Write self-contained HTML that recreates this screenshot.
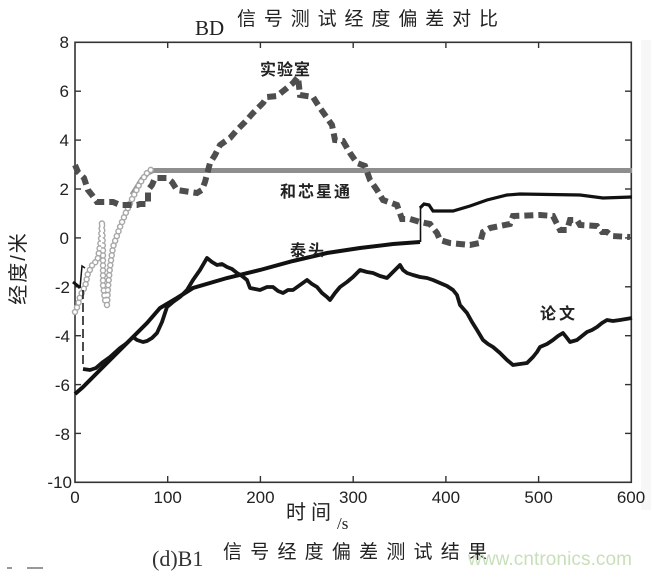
<!DOCTYPE html>
<html><head><meta charset="utf-8"><style>
html,body{margin:0;padding:0;background:#fff;}
svg{display:block;}
.t{font-family:"Liberation Sans",sans-serif;font-size:17px;fill:#222;}
.cn{font-family:"Liberation Sans","Noto Sans CJK SC",sans-serif;fill:#222;}
</style></head><body>
<svg width="651" height="574" viewBox="0 0 651 574" xmlns="http://www.w3.org/2000/svg">
<rect width="651" height="574" fill="#fff"/>
<rect x="641" y="40" width="10" height="470" fill="#f7f7f7"/>
<!-- title -->
<text x="195" y="35" font-family="Liberation Serif,serif" font-size="21" fill="#222">BD</text>
<text x="237" y="25" class="cn" font-size="19" textLength="261" lengthAdjust="spacing">信号测试经度偏差对比</text>

<!-- axes box -->
<rect x="75" y="42.3" width="556.3" height="440" fill="none" stroke="#333" stroke-width="1.6"/>
<g stroke="#333" stroke-width="1.4">
<line x1="167.7" y1="482.3" x2="167.7" y2="476"/><line x1="260.4" y1="482.3" x2="260.4" y2="476"/><line x1="353.2" y1="482.3" x2="353.2" y2="476"/><line x1="445.9" y1="482.3" x2="445.9" y2="476"/><line x1="538.6" y1="482.3" x2="538.6" y2="476"/>
<line x1="167.7" y1="42.3" x2="167.7" y2="48"/><line x1="260.4" y1="42.3" x2="260.4" y2="48"/><line x1="353.2" y1="42.3" x2="353.2" y2="48"/><line x1="445.9" y1="42.3" x2="445.9" y2="48"/><line x1="538.6" y1="42.3" x2="538.6" y2="48"/>
<line x1="75" y1="91.2" x2="81" y2="91.2"/><line x1="75" y1="140.1" x2="81" y2="140.1"/><line x1="75" y1="189" x2="81" y2="189"/><line x1="75" y1="237.9" x2="81" y2="237.9"/><line x1="75" y1="286.8" x2="81" y2="286.8"/><line x1="75" y1="335.7" x2="81" y2="335.7"/><line x1="75" y1="384.6" x2="81" y2="384.6"/><line x1="75" y1="433.4" x2="81" y2="433.4"/>
<line x1="631.3" y1="91.2" x2="625" y2="91.2"/><line x1="631.3" y1="140.1" x2="625" y2="140.1"/><line x1="631.3" y1="189" x2="625" y2="189"/><line x1="631.3" y1="237.9" x2="625" y2="237.9"/><line x1="631.3" y1="286.8" x2="625" y2="286.8"/><line x1="631.3" y1="335.7" x2="625" y2="335.7"/><line x1="631.3" y1="384.6" x2="625" y2="384.6"/><line x1="631.3" y1="433.4" x2="625" y2="433.4"/>
</g>
<!-- y tick labels -->
<g class="t" text-anchor="end">
<text x="69" y="48">8</text><text x="69" y="97">6</text><text x="69" y="146">4</text><text x="69" y="195">2</text><text x="69" y="244">0</text>
<text x="70" y="293">-2</text><text x="70" y="342">-4</text><text x="70" y="391">-6</text><text x="70" y="440">-8</text><text x="72" y="488">-10</text>
</g>
<!-- x tick labels -->
<g class="t" text-anchor="middle">
<text x="75" y="503">0</text><text x="167.7" y="503">100</text><text x="260.4" y="503">200</text><text x="353.2" y="503">300</text><text x="445.9" y="503">400</text><text x="538.6" y="503">500</text><text x="631" y="503">600</text>
</g>
<!-- axis labels -->
<text transform="translate(25,268) rotate(-90)" text-anchor="middle" class="cn" font-size="20" letter-spacing="2">经度/米</text>
<text x="286" y="519" class="cn" font-size="20" letter-spacing="5">时间</text>
<text x="337" y="529" font-family="Liberation Serif,serif" font-size="17" fill="#222">/s</text>
<!-- caption -->
<text x="152" y="566" font-family="Liberation Serif,serif" font-size="22" fill="#333">(d)B1</text>
<text x="223" y="558" class="cn" font-size="19" textLength="264" lengthAdjust="spacing">信号经度偏差测试结果</text>
<text x="468" y="565" font-family="Liberation Sans,sans-serif" font-size="19" fill="#c8dfba" textLength="164">www.cntronics.com</text>
<g fill="#999"><rect x="7" y="567" width="5" height="2"/><rect x="27" y="567" width="16" height="2"/></g>

<!-- 和芯星通 gray thick line -->
<polyline points="132,195 142,179 148,173 153,170.5 632,170.5" fill="none" stroke="#8e8e8e" stroke-width="5"/>

<!-- circle series -->
<path d="M75,312 L78,305 L80,297 L83,290 L85,287 L88,273 L91,268 L93,263 L96,262 L98,258 L101,240 L102,222 L103,250 L103,285 L105,300 L107,305 L108,287 L110,267 L113,247 L120,227 L127,210 L133,197 L140,183 L147,173 L153,168" fill="none" stroke="#b5b5b5" stroke-width="1"/>
<path d="M75,312 L78,305 L80,297 L83,290 L85,287 L88,273 L91,268 L93,263 L96,262 L98,258 L101,240 L102,222 L103,250 L103,285 L105,300 L107,305 L108,287 L110,267 L113,247 L120,227 L127,210 L133,197 L140,183 L147,173 L153,168" fill="none" stroke="#a8a8a8" stroke-width="6.5" stroke-linecap="round" stroke-dasharray="0 5"/>
<path d="M75,312 L78,305 L80,297 L83,290 L85,287 L88,273 L91,268 L93,263 L96,262 L98,258 L101,240 L102,222 L103,250 L103,285 L105,300 L107,305 L108,287 L110,267 L113,247 L120,227 L127,210 L133,197 L140,183 L147,173 L153,168" fill="none" stroke="#fff" stroke-width="3.6" stroke-linecap="round" stroke-dasharray="0 5"/>

<!-- 实验室 dashed dark gray -->
<polyline points="75,165 78,172 84,178 88,190 92,195 97,202 113,202 120,205 137,205 140,204 148,204 148,190 152,185 155,178 167,178 172,182 177,190 190,192 197,193 202,190 205,182 210,163 215,155 220,145 230,138 237,130 245,122 253,113 263,103 267,97 277,96 287,88 293,83 298,77 300,95 313,97 320,108 325,115 332,125 335,140 343,141 350,153 357,163 365,166 370,180 377,190 383,200 397,205 402,219 410,219 420,222 430,224 437,233 440,240 450,243 470,245 480,243 483,232 490,228 510,224 513,216 540,215 553,216 560,230 567,230 570,220 577,220 580,225 597,226 602,232 607,232 612,236 630,237" fill="none" stroke="#4e4e4e" stroke-width="6" stroke-dasharray="9 5"/>

<!-- 泰头 black -->
<polyline points="75,394 83,387 97,373 110,360 130,340 147,323 160,308 177,298 193,288 227,278 260,270 293,261 327,253 360,248 393,244 420,242" fill="none" stroke="#111" stroke-width="4"/>
<line x1="420.5" y1="242" x2="420.5" y2="207" stroke="#111" stroke-width="1.6"/>
<polyline points="420,208 424,204 429,205 433,211 453,211 470,206 487,200 507,195 520,194 580,195 603,198 632,197" fill="none" stroke="#111" stroke-width="3.2"/>

<!-- 论文 black -->
<polyline points="73,282 78,286 80,288" fill="none" stroke="#111" stroke-width="3"/>
<polyline points="80,288 82,266 85,268" fill="none" stroke="#111" stroke-width="1.5"/>
<line x1="83" y1="290" x2="83" y2="368" stroke="#111" stroke-width="1.5" stroke-dasharray="9 4"/>
<polyline points="83,369 90,370 96,368 103,362 110,357 120,348 127,343 133,337 137,340 143,342 147,341 152,338 157,333 162,322 167,307 173,302 180,297 187,290 193,280 200,270 207,258 212,262 217,265 222,264 227,267 232,269 237,273 242,276 247,280 250,288 255,289 260,290 267,287 273,287 278,291 283,293 288,290 293,290 300,285 307,280 312,284 317,287 322,293 327,297 330,300 335,293 340,287 347,282 353,277 360,270 367,272 373,273 380,276 387,278 393,272 400,265 403,270 407,273 413,275 420,277 427,278 433,280 440,283 447,286 453,290 457,295 460,305 467,313 472,322 477,330 483,340 488,344 493,347 500,353 507,360 513,365 520,364 527,363 533,357 537,352 540,347 547,344 553,340 558,336 563,333 567,338 570,342 577,340 582,336 587,332 592,330 597,327 602,323 607,320 613,321 620,320 626,319 632,318" fill="none" stroke="#151515" stroke-width="3.8" stroke-linejoin="round"/>

<!-- series labels -->
<g class="cn" font-size="16" font-weight="bold">
<text x="260" y="75" letter-spacing="1">实验室</text>
<text x="280" y="197" letter-spacing="2">和芯星通</text>
<text x="290" y="256" letter-spacing="2">泰头</text>
<text x="540" y="319" letter-spacing="3">论文</text>
</g>
</svg>
</body></html>
